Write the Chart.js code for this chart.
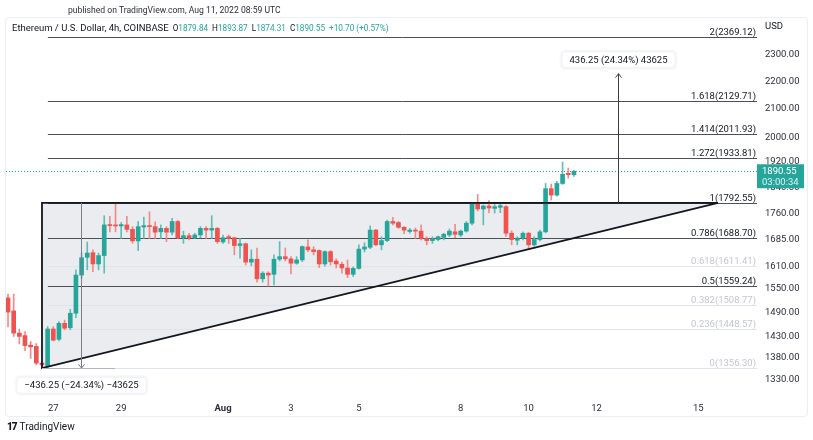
<!DOCTYPE html>
<html><head><meta charset="utf-8">
<script src="https://cdn.jsdelivr.net/npm/chart.js@4.4.1/dist/chart.umd.min.js"></script>
<style>
html,body{margin:0;padding:0;background:#fff;width:813px;height:440px;overflow:hidden;font-family:Roboto,"Liberation Sans",Arial,sans-serif;}
#wrap{position:relative;width:813px;height:440px;}
#frame{position:absolute;left:5px;top:17px;width:803px;height:400px;border:1px solid #eceef2;border-radius:4px;box-sizing:border-box;}
#c{position:absolute;left:0;top:0;}
.pub{position:absolute;left:68px;top:5px;font-size:8.6px;color:#2a2e39;white-space:nowrap;}
.sym{position:absolute;left:12px;top:22px;font-size:9.5px;color:#131722;white-space:nowrap;}
.sym .g{margin-left:4px;font-size:8.2px;}
.sym .v{color:#26a69a;}
.foot{position:absolute;left:7px;top:421px;font-size:10px;color:#131722;white-space:nowrap;}
.foot b{font-size:10px;letter-spacing:-1px;margin-right:3px;font-weight:900;}
</style></head>
<body><div id="wrap">
<div id="frame"></div>
<canvas id="c" width="813" height="440"></canvas>
<div class="pub">published on TradingView.com, Aug 11, 2022 08:59 UTC</div>
<div class="sym">Ethereum / U.S. Dollar, 4h, COINBASE<span class="g">O<span class="v">1879.84</span></span><span class="g">H<span class="v">1893.87</span></span><span class="g">L<span class="v">1874.31</span></span><span class="g">C<span class="v">1890.55</span></span><span class="g v">+10.70 (+0.57%)</span></div>
<div class="foot"><b>17</b>TradingView</div>
</div>
<script>
// ---- data (4h candles, time in days from 27 Jul 00:00 UTC) ----
const candleStart = -4/3;   // 25 Jul 16:00
const candleStep = 1/6;     // 4 hours
const openV  = [1527,1494,1439,1433,1410,1407,1368,1362,1449,1424,1463,1452,1488,1587,1635,1648,1617,1640,1728,1727,
                1724,1727,1714,1681,1721,1725,1722,1707,1717,1706,1737,1690,1696,1690,1698,1717,1712,1717,1678,1693,
                1690,1668,1673,1622,1630,1577,1592,1589,1630,1637,1631,1619,1628,1664,1656,1654,1617,1651,1625,1616,
                1606,1589,1605,1658,1663,1712,1670,1682,1737,1734,1720,1708,1712,1709,1688,1682,1685,1691,1698,1707,
                1698,1709,1732,1791,1774,1783,1776,1779,1781,1703,1683,1689,1703,1670,1685,1707,1836,1816,1852,1884,1879.84];
const highV  = [1537,1537,1449,1443,1419,1414,1371,1455,1455,1467,1471,1498,1601,1647,1678,1656,1647,1754,1752,1789,
                1734,1752,1722,1737,1750,1766,1736,1727,1722,1746,1740,1709,1703,1703,1722,1722,1754,1720,1698,1698,
                1692,1688,1675,1656,1661,1596,1596,1642,1679,1661,1637,1637,1667,1684,1665,1656,1653,1654,1631,1622,
                1628,1609,1670,1676,1724,1714,1693,1741,1749,1737,1722,1717,1718,1727,1693,1693,1695,1703,1715,1729,
                1712,1737,1793,1818,1786,1799,1788,1788,1784,1710,1693,1707,1706,1693,1712,1852,1850,1859,1920,1901,1893.87];
const lowV   = [1454,1431,1413,1397,1379,1364,1356.3,1358,1420,1420,1447,1447,1477,1578,1601,1596,1601,1592,1707,1707,
                1688,1707,1674,1654,1688,1688,1688,1688,1679,1698,1688,1674,1684,1688,1690,1688,1688,1674,1674,1674,
                1642,1633,1614,1612,1568,1568,1558,1561,1625,1625,1590,1616,1623,1651,1642,1607,1611,1614,1606,1592,
                1580,1583,1603,1650,1659,1667,1656,1679,1727,1717,1702,1703,1688,1684,1670,1674,1681,1684,1693,1690,
                1693,1706,1727,1768,1727,1762,1762,1763,1694,1670,1670,1684,1657,1666,1681,1704,1801,1813,1849,1869,1874.31];
const closeV = [1491,1439,1431,1409,1406,1368,1364,1449,1422,1463,1451,1488,1587,1634,1647,1617,1640,1727,1725,1724,
                1728,1714,1681,1722,1725,1722,1706,1717,1706,1737,1690,1696,1690,1698,1717,1712,1717,1679,1690,1688,
                1668,1673,1622,1630,1577,1592,1587,1630,1637,1631,1619,1628,1665,1656,1651,1617,1651,1623,1617,1606,
                1589,1605,1658,1664,1712,1670,1682,1737,1732,1720,1712,1712,1709,1688,1682,1687,1693,1700,1709,1700,
                1709,1732,1791,1774,1783,1777,1781,1784,1703,1685,1689,1703,1670,1685,1707,1836,1816,1852,1881,1879.84,1890.55];
const candleDays = openV.map((_, i) => candleStart + i * candleStep);

const xTickDays   = [0, 2, 5, 7, 9, 12, 14, 16, 19];
const xTickLabels = ['27', '29', 'Aug', '3', '5', '8', '10', '12', '15'];
const yTickValues = [2300, 2200, 2100, 2000, 1920, 1840, 1760, 1685, 1610, 1550, 1490, 1430, 1380, 1330];

const fibLevels = ['2', '1.618', '1.414', '1.272', '1', '0.786', '0.618', '0.5', '0.382', '0.236', '0'];
const fibPrices = [2369.12, 2129.71, 2011.93, 1933.81, 1792.55, 1688.70, 1611.41, 1559.24, 1508.77, 1448.57, 1356.30];
const fibStrong = [true, true, true, true, true, true, false, true, false, false, false];

const triangleDays   = [-0.333, 19.58];   // left edge, apex
const trianglePrices = [1792.55, 1356.30]; // top, bottom
const measureDown = {day: 0.83, endDay: 1.82, from: 1792.55, to: 1356.30, text: '\u2212436.25 (\u221224.34%) \u221243625'};
const measureUp   = {day: 16.63, from: 1792.55, to: 2228.80, text: '436.25 (24.34%) 43625'};
const lastPrice = 1890.55, countdown = '03:00:34';

const GREEN = '#26a69a', RED = '#ef5350';
const FONT = 'Roboto, "Liberation Sans", Arial, sans-serif';
const candleColors = openV.map((o, i) => closeV[i] >= o ? GREEN : RED);
const wickColors = openV.map((o, i) => closeV[i] >= o ? '#5fbdb3' : '#f28a88');

function roundRect(ctx, x, y, w, h, r) {
  ctx.beginPath();
  ctx.moveTo(x + r, y); ctx.lineTo(x + w - r, y); ctx.quadraticCurveTo(x + w, y, x + w, y + r);
  ctx.lineTo(x + w, y + h - r); ctx.quadraticCurveTo(x + w, y + h, x + w - r, y + h);
  ctx.lineTo(x + r, y + h); ctx.quadraticCurveTo(x, y + h, x, y + h - r);
  ctx.lineTo(x, y + r); ctx.quadraticCurveTo(x, y, x + r, y); ctx.closePath();
}
function box(ctx, cx, cy, text) {
  ctx.font = '9.5px ' + FONT;
  const w = ctx.measureText(text).width + 16, h = 17;
  ctx.save();
  ctx.shadowColor = 'rgba(0,0,0,0.12)'; ctx.shadowBlur = 3;
  roundRect(ctx, cx - w / 2, cy - h / 2, w, h, 3);
  ctx.fillStyle = '#fff'; ctx.fill();
  ctx.restore();
  ctx.strokeStyle = '#eef0f3'; ctx.lineWidth = 1;
  roundRect(ctx, cx - w / 2 + 0.5, cy - h / 2 + 0.5, w - 1, h - 1, 3); ctx.stroke();
  ctx.fillStyle = '#131722'; ctx.textAlign = 'center'; ctx.textBaseline = 'middle';
  ctx.fillText(text, cx, cy + 0.5);
}

const overlay = {
  id: 'overlay',
  beforeDatasetsDraw(chart) {
    const {ctx, chartArea: a, scales: {x, y}} = chart;
    ctx.save();
    const xl = x.getPixelForValue(triangleDays[0]), xr = x.getPixelForValue(triangleDays[1]);
    const yt = y.getPixelForValue(trianglePrices[0]), yb = y.getPixelForValue(trianglePrices[1]);
    ctx.beginPath(); ctx.moveTo(xl, yt); ctx.lineTo(xr, yt); ctx.lineTo(xl, yb); ctx.closePath();
    ctx.fillStyle = '#ebecf0'; ctx.fill();
    const fx = x.getPixelForValue(-0.16);
    ctx.font = '9.5px ' + FONT; ctx.textAlign = 'right'; ctx.textBaseline = 'alphabetic';
    fibPrices.forEach((p, i) => {
      const py = Math.round(y.getPixelForValue(p)) + 0.5;
      ctx.strokeStyle = fibStrong[i] ? '#4c505b' : '#e0e3eb';
      ctx.lineWidth = 1;
      ctx.beginPath(); ctx.moveTo(fx, py); ctx.lineTo(a.right, py); ctx.stroke();
      ctx.fillStyle = fibStrong[i] ? '#131722' : '#c3c6ce';
      ctx.fillText(fibLevels[i] + '(' + p.toFixed(2) + ')', a.right - 1, py - 3);
    });
    const lp = Math.round(y.getPixelForValue(lastPrice)) + 0.5;
    ctx.strokeStyle = GREEN; ctx.setLineDash([1, 2]);
    ctx.beginPath(); ctx.moveTo(a.left, lp); ctx.lineTo(a.right, lp); ctx.stroke();
    ctx.setLineDash([]);
    ctx.restore();
  },
  afterDatasetsDraw(chart) {
    const {ctx, chartArea: a, scales: {x, y}} = chart;
    ctx.save();
    const xl = x.getPixelForValue(triangleDays[0]), xr = x.getPixelForValue(triangleDays[1]);
    const yt = y.getPixelForValue(trianglePrices[0]), yb = y.getPixelForValue(trianglePrices[1]);
    ctx.strokeStyle = '#131722'; ctx.lineWidth = 1.8; ctx.lineJoin = 'miter';
    ctx.beginPath(); ctx.moveTo(xr, yt); ctx.lineTo(xl, yt); ctx.lineTo(xl, yb); ctx.lineTo(xr, yt); ctx.stroke();
    const mdx = Math.round(x.getPixelForValue(measureDown.day)) + 0.5;
    const md1 = y.getPixelForValue(measureDown.from), md2 = y.getPixelForValue(measureDown.to);
    ctx.strokeStyle = '#7b7e88'; ctx.lineWidth = 1;
    ctx.beginPath(); ctx.moveTo(mdx, md1); ctx.lineTo(mdx, md2); ctx.stroke();
    ctx.beginPath(); ctx.moveTo(mdx - 3, md2 - 4); ctx.lineTo(mdx, md2); ctx.lineTo(mdx + 3, md2 - 4); ctx.stroke();
    ctx.strokeStyle = '#b2b5be';
    const mbx = x.getPixelForValue(measureDown.endDay);
    ctx.beginPath(); ctx.moveTo(xl, Math.round(md2) + 0.5); ctx.lineTo(mbx, Math.round(md2) + 0.5); ctx.stroke();
    const mux = Math.round(x.getPixelForValue(measureUp.day)) + 0.5;
    const mu1 = y.getPixelForValue(measureUp.from), mu2 = y.getPixelForValue(measureUp.to);
    ctx.strokeStyle = '#3a3d46';
    ctx.beginPath(); ctx.moveTo(mux, mu1); ctx.lineTo(mux, mu2); ctx.stroke();
    ctx.beginPath(); ctx.moveTo(mux - 3, mu2 + 4); ctx.lineTo(mux, mu2); ctx.lineTo(mux + 3, mu2 + 4); ctx.stroke();
    box(ctx, mux, mu2 - 14, measureUp.text);
    box(ctx, mdx, md2 + 17, measureDown.text);
    ctx.restore();
  },
  afterDraw(chart) {
    const {ctx, chartArea: a, scales: {y}} = chart;
    ctx.save();
    ctx.font = '9.5px ' + FONT; ctx.fillStyle = '#131722'; ctx.textAlign = 'left'; ctx.textBaseline = 'middle';
    ctx.fillText('USD', a.right + 8, 27);
    const lp = y.getPixelForValue(lastPrice);
    ctx.fillStyle = GREEN;
    ctx.fillRect(a.right, lp - 7, 47, 24);
    ctx.fillStyle = '#fff';
    ctx.fillText(lastPrice.toFixed(2), a.right + 5, lp);
    ctx.fillStyle = 'rgba(255,255,255,0.85)';
    ctx.fillText(countdown, a.right + 5, lp + 11);
    ctx.restore();
  }
};

new Chart(document.getElementById('c'), {
  type: 'bar',
  data: {
    datasets: [
      { label: 'body', data: candleDays.map((d, i) => ({x: d, y: [openV[i], closeV[i]]})),
        backgroundColor: candleColors, barThickness: 4, grouped: false, minBarLength: 1 },
      { label: 'wick', data: candleDays.map((d, i) => ({x: d, y: [lowV[i], highV[i]]})),
        backgroundColor: wickColors, barThickness: 1, grouped: false }
    ]
  },
  options: {
    responsive: false, animation: false, devicePixelRatio: 1,
    layout: { padding: { left: 6, right: 5, top: 36, bottom: 24 } },
    plugins: { legend: { display: false }, tooltip: { enabled: false } },
    font: { family: FONT },
    scales: {
      x: {
        type: 'linear', min: -1.393, max: 20.727, offset: false,
        grid: { display: false, drawTicks: false }, border: { display: false },
        afterBuildTicks: s => { s.ticks = xTickDays.map(v => ({value: v})); },
        afterFit: s => { s.height = 20; },
        ticks: {
          autoSkip: false, maxRotation: 0, padding: 7, color: '#2a2e39',
          font: c => ({ family: FONT, size: 9.5, weight: (c.tick && c.tick.value === 5) ? 'bold' : 'normal' }),
          callback: (v, i) => xTickLabels[i]
        }
      },
      y: {
        type: 'logarithmic', position: 'right', min: 1294.2, max: 2374.9,
        grid: { display: false, drawTicks: false }, border: { display: false },
        afterBuildTicks: s => { s.ticks = yTickValues.map(v => ({value: v})); },
        afterFit: s => { s.width = 51; },
        ticks: { padding: 8, color: '#2a2e39', font: { family: FONT, size: 9.5 },
          callback: v => Number(v).toFixed(2) }
      }
    }
  },
  plugins: [overlay]
});
</script>
</body></html>
